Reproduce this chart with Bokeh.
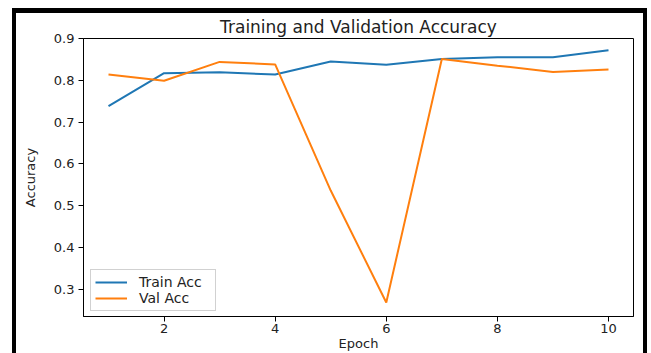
from bokeh.plotting import figure
from bokeh.models import FixedTicker, ColumnDataSource
from bokeh.embed import file_html
from bokeh.resources import INLINE

epochs = [1, 2, 3, 4, 5, 6, 7, 8, 9, 10]
train_acc = [0.738, 0.817, 0.819, 0.814, 0.845, 0.837, 0.851, 0.855, 0.855, 0.872]
val_acc = [0.814, 0.799, 0.844, 0.838, 0.536, 0.268, 0.851, 0.835, 0.820, 0.826]
x_ticks = [2, 4, 6, 8, 10]
y_ticks = [0.3, 0.4, 0.5, 0.6, 0.7, 0.8, 0.9]

FONT = "DejaVu Sans"

p = figure(width=627, height=340, x_range=(0.55, 10.45), y_range=(0.2345, 0.9),
           output_backend="svg", toolbar_location=None,
           min_border_left=67, min_border_right=10, min_border_top=23, min_border_bottom=37,
           title="Training and Validation Accuracy")
# black picture frame drawn round the chart without changing its size
p.styles = {"margin-left": "16px", "margin-top": "13px",
            "box-shadow": "0px -1px 0px 4px black"}

p.title.align = "center"
p.title.text_font = FONT
p.title.text_font_size = "17px"
p.title.text_font_style = "normal"
p.title.text_color = "#222222"
p.title.standoff = 3
p.title.offset = 0

p.grid.visible = False
p.outline_line_color = "black"
p.outline_line_width = 1
p.background_fill_color = "white"
p.border_fill_color = "white"

src = ColumnDataSource(dict(x=epochs, train=train_acc, val=val_acc))
p.line("x", "train", source=src, line_color="#1f77b4", line_width=2, legend_label="Train Acc")
p.line("x", "val", source=src, line_color="#ff7f0e", line_width=2, legend_label="Val Acc")

for ax in (p.xaxis[0], p.yaxis[0]):
    ax.axis_line_color = "black"
    ax.major_tick_line_color = "black"
    ax.major_tick_out = 5
    ax.major_tick_in = 0
    ax.minor_tick_line_color = None
    ax.major_label_text_font = FONT
    ax.major_label_text_font_size = "13px"
    ax.major_label_text_color = "#222222"
    ax.axis_label_text_font = FONT
    ax.axis_label_text_font_size = "13px"
    ax.axis_label_text_font_style = "normal"
    ax.axis_label_text_color = "#222222"
    ax.major_label_standoff = 2
    ax.axis_label_standoff = 0

p.xaxis.ticker = FixedTicker(ticks=x_ticks)
p.yaxis.ticker = FixedTicker(ticks=y_ticks)
p.xaxis.axis_label = "Epoch"
p.yaxis.axis_label = "Accuracy"
p.yaxis.major_label_standoff = 4
p.yaxis.axis_label_standoff = 13

lg = p.legend[0]
lg.location = (7, 5)
lg.label_text_font = FONT
lg.label_text_font_size = "14px"
lg.label_text_color = "#222222"
lg.border_line_color = "#cccccc"
lg.border_line_alpha = 0.9
lg.padding = 4
lg.spacing = 0
lg.margin = 0
lg.glyph_width = 32
lg.glyph_height = 14
lg.label_height = 14
lg.label_width = 72
lg.label_standoff = 12
lg.background_fill_alpha = 0.8

open("out.html", "w").write(file_html(p, INLINE))
